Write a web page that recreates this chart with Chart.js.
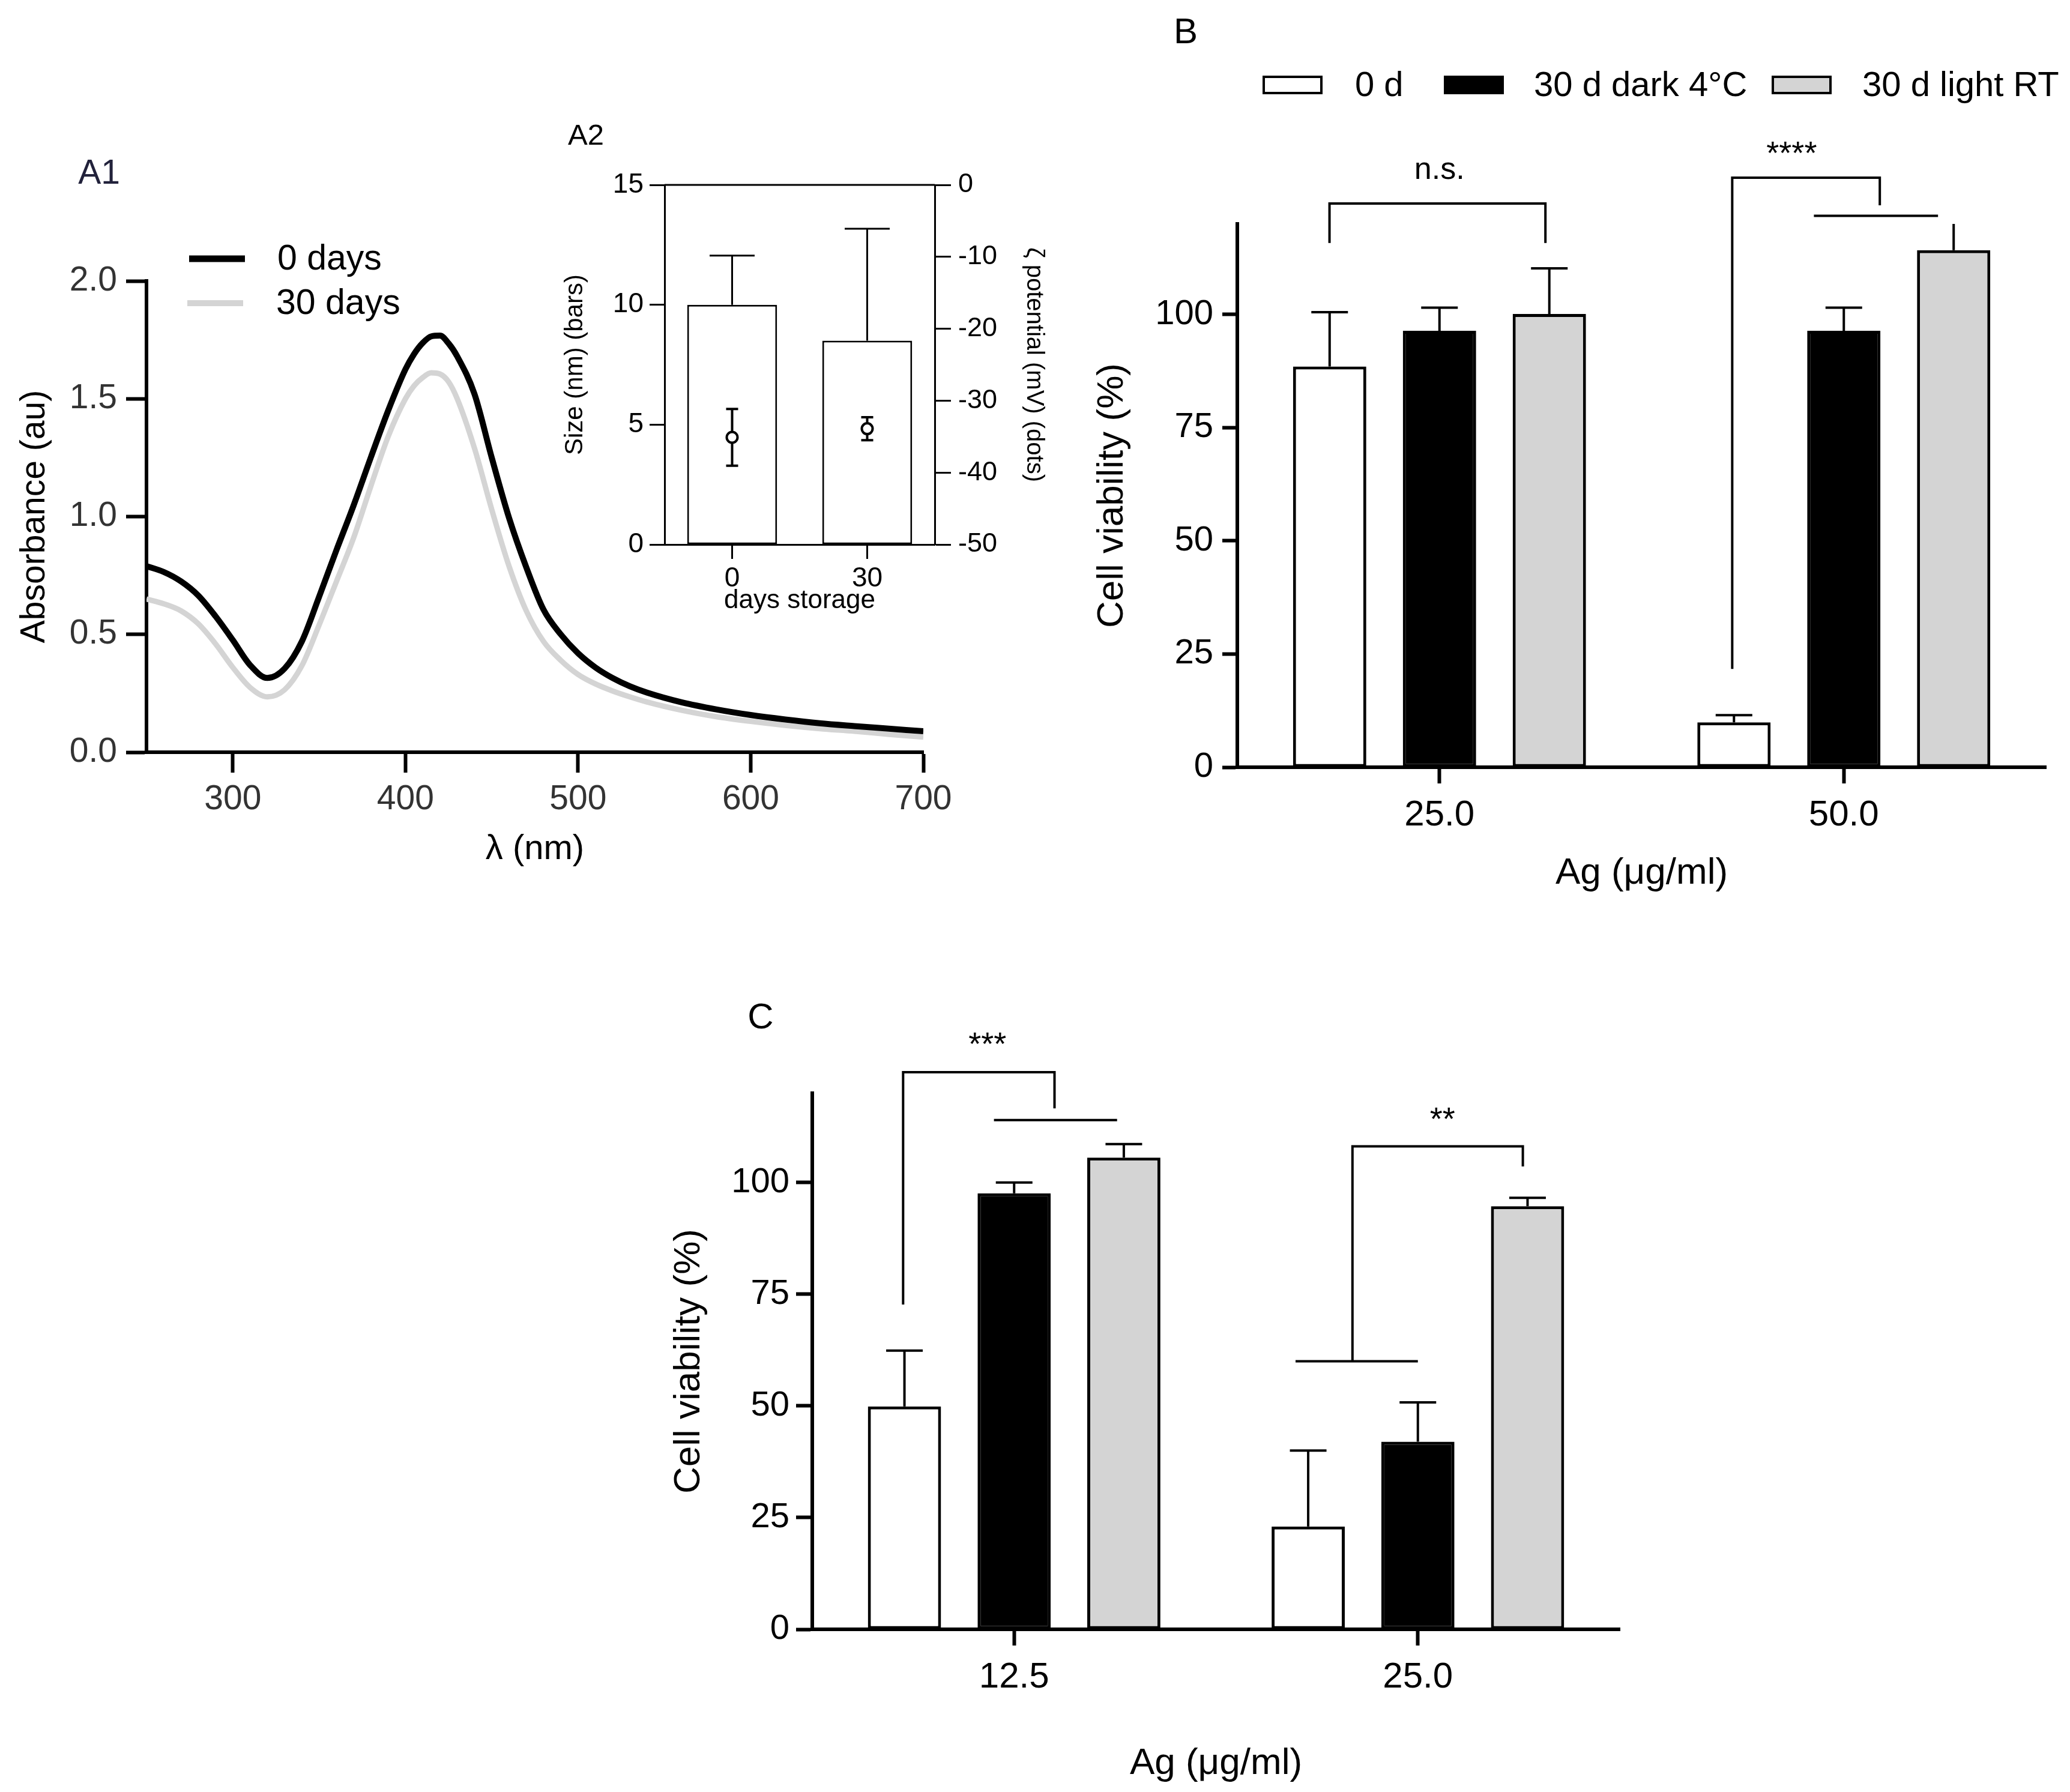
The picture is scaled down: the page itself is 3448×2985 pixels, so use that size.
<!DOCTYPE html>
<html>
<head>
<meta charset="utf-8">
<script src="https://cdn.jsdelivr.net/npm/chart.js@4.4.1/dist/chart.umd.min.js"></script>
<style>
  html, body { margin: 0; padding: 0; background: #fff; }
  #page { position: relative; width: 3448px; height: 2985px; overflow: hidden; font-family: 'Liberation Sans', Arial, sans-serif; }
  canvas { position: absolute; }
  .tag { position: absolute; line-height: 1; transform: translate(-50%, -50%); white-space: nowrap; }
</style>
</head>
<body>
<div id="page">
  <canvas id="chartA1" width="1600" height="1500" style="left:0px;top:0px;width:1600px;height:1500px"></canvas>
  <canvas id="chartA2" width="900" height="900" style="left:900px;top:150px;width:900px;height:900px"></canvas>
  <canvas id="chartB" width="1648" height="1500" style="left:1800px;top:0px;width:1648px;height:1500px"></canvas>
  <canvas id="chartC" width="1700" height="1385" style="left:1050px;top:1600px;width:1700px;height:1385px"></canvas>
  <div class="tag" style="left:165px;top:286px;font-size:57px;color:#22223b">A1</div>
  <div class="tag" style="left:976px;top:224px;font-size:49px;color:#000">A2</div>
  <div class="tag" style="left:1975px;top:52px;font-size:60px;color:#000">B</div>
  <div class="tag" style="left:1267px;top:1693px;font-size:60px;color:#000">C</div>
</div>
<script>
// ---- A1: UV-vis spectra ----
const wavelengths = [250, 260, 270, 280, 290, 300, 310, 320, 330, 340, 350, 360, 370, 380, 390, 400, 405, 410, 415, 420, 425, 430,
  440, 450, 460, 470, 480, 490, 500, 510, 520, 530, 540, 560, 580, 600, 620, 640, 660, 680, 700];
const abs0Days = [0.79, 0.765, 0.725, 0.665, 0.577, 0.476, 0.37, 0.315, 0.355, 0.47, 0.66, 0.857, 1.048, 1.252, 1.45, 1.625, 1.69, 1.737, 1.765, 1.768, 1.735, 1.68,
  1.52, 1.25, 0.995, 0.785, 0.605, 0.50, 0.42, 0.36, 0.315, 0.28, 0.253, 0.212, 0.182, 0.158, 0.139, 0.123, 0.111, 0.10, 0.089];
const abs30Days = [0.65, 0.63, 0.60, 0.545, 0.46, 0.36, 0.275, 0.235, 0.265, 0.367, 0.54, 0.724, 0.91, 1.13, 1.34, 1.50, 1.555, 1.59, 1.61, 1.605, 1.572, 1.50,
  1.29, 1.03, 0.79, 0.60, 0.47, 0.39, 0.33, 0.29, 0.26, 0.235, 0.213, 0.178, 0.151, 0.131, 0.114, 0.10, 0.089, 0.076, 0.064];
const a1XTicks = [300, 400, 500, 600, 700];
const a1Series = ['0 days', '30 days'];

// ---- A2: size (bars) and zeta potential (dots) ----
const a2Days = ['0', '30'];
const a2Size = [10.0, 8.5];
const a2SizeErr = [2.05, 4.67];
const a2Zeta = [-35.1, -33.9];
const a2ZetaErr = [3.95, 1.6];

// ---- B: viability, Ag 25 / 50 ----
const groupLabels = ['0 d', '30 d dark 4°C', '30 d light RT'];
const bDoses = ['25.0', '50.0'];
const bFresh = [88.5, 9.9];
const bFreshErr = [12.0, 1.6];
const bDark = [96.4, 96.4];
const bDarkErr = [5.1, 5.1];
const bLight = [100.1, 114.2];
const bLightErr = [10.1, 7.0];

// ---- C: viability, Ag 12.5 / 25 ----
const cDoses = ['12.5', '25.0'];
const cFresh = [49.9, 23.0];
const cFreshErr = [12.5, 17.0];
const cDark = [97.6, 42.0];
const cDarkErr = [2.4, 8.8];
const cLight = [105.6, 94.7];
const cLightErr = [3.0, 1.9];

const viabilityTicks = [0, 25, 50, 75, 100];

const FONT = "'Liberation Sans', Arial, sans-serif";
Chart.defaults.font.family = FONT;
Chart.defaults.color = '#000';

// error bars, drawn just before each dataset so dots cover their own whiskers
const errorBars = {
  id: 'errorBars',
  beforeDatasetDraw(chart, args) {
    const ds = chart.data.datasets[args.index];
    if (!ds.errors) return;
    const meta = args.meta;
    const yScale = chart.scales[meta.yAxisID];
    const area = chart.chartArea;
    const ctx = chart.ctx;
    ctx.save();
    ctx.beginPath();
    ctx.rect(area.left - 100, area.top, area.width + 200, area.height + 10);
    ctx.clip();
    ctx.strokeStyle = '#000';
    ctx.lineWidth = ds.errWidth;
    ctx.lineCap = 'butt';
    meta.data.forEach((el, j) => {
      const v = ds.data[j];
      const e = ds.errors[j];
      const x = el.x;
      const yTop = yScale.getPixelForValue(v + e);
      const yMid = yScale.getPixelForValue(v);
      const half = ds.capWidth / 2;
      ctx.beginPath();
      if (ds.errorBoth) {
        const yBot = yScale.getPixelForValue(v - e);
        ctx.moveTo(x, yTop); ctx.lineTo(x, yBot);
        ctx.moveTo(x - half, yBot); ctx.lineTo(x + half, yBot);
      } else {
        ctx.moveTo(x, yMid); ctx.lineTo(x, yTop);
      }
      ctx.moveTo(x - half, yTop); ctx.lineTo(x + half, yTop);
      ctx.stroke();
    });
    ctx.restore();
  }
};

// significance brackets (x in category units, y in data units)
const brackets = {
  id: 'brackets',
  afterDraw(chart, args, opts) {
    if (!opts.lines) return;
    const ctx = chart.ctx;
    const xs = chart.scales.x, ys = chart.scales.y;
    ctx.save();
    ctx.strokeStyle = '#000';
    ctx.lineWidth = 4;
    ctx.lineJoin = 'miter';
    opts.lines.forEach(pts => {
      ctx.beginPath();
      pts.forEach((p, k) => {
        const px = xs.getPixelForValue(p[0]);
        const py = ys.getPixelForValue(p[1]);
        if (k === 0) ctx.moveTo(px, py); else ctx.lineTo(px, py);
      });
      ctx.stroke();
    });
    ctx.fillStyle = '#000';
    ctx.textAlign = 'center';
    ctx.textBaseline = 'alphabetic';
    opts.labels.forEach(l => {
      ctx.font = l.size + 'px ' + FONT;
      ctx.fillText(l.text, xs.getPixelForValue(l.x), ys.getPixelForValue(l.y));
    });
    ctx.restore();
  }
};

// A1 legend (line samples inside the plot)
const lineLegend = {
  id: 'lineLegend',
  afterDraw(chart, args, opts) {
    if (!opts.items) return;
    const ctx = chart.ctx;
    ctx.save();
    opts.items.forEach((it, i) => {
      const ds = chart.data.datasets[i];
      ctx.strokeStyle = ds.borderColor;
      ctx.lineWidth = it.w;
      ctx.beginPath();
      ctx.moveTo(it.x0, it.y); ctx.lineTo(it.x1, it.y);
      ctx.stroke();
      ctx.fillStyle = '#000';
      ctx.font = '59px ' + FONT;
      ctx.textAlign = 'left';
      ctx.textBaseline = 'middle';
      ctx.fillText(ds.label, it.tx, it.y + 2);
    });
    ctx.restore();
  }
};

// B legend (boxes above the plot)
const boxLegend = {
  id: 'boxLegend',
  afterDraw(chart, args, opts) {
    if (!opts.items) return;
    const ctx = chart.ctx;
    ctx.save();
    opts.items.forEach((it, i) => {
      const ds = chart.data.datasets[i];
      ctx.fillStyle = ds.backgroundColor;
      ctx.fillRect(it.x, opts.y, opts.w, opts.h);
      ctx.strokeStyle = '#000';
      ctx.lineWidth = 4;
      ctx.strokeRect(it.x, opts.y, opts.w, opts.h);
      ctx.fillStyle = '#000';
      ctx.font = '58px ' + FONT;
      ctx.textAlign = 'left';
      ctx.textBaseline = 'middle';
      ctx.fillText(ds.label, it.tx, opts.y + opts.h / 2 + 2);
    });
    ctx.restore();
  }
};

// A2 frame top line
const topLine = {
  id: 'topLine',
  afterDraw(chart, args, opts) {
    if (!opts.width) return;
    const {ctx, chartArea} = chart;
    ctx.save();
    ctx.strokeStyle = '#000';
    ctx.lineWidth = opts.width;
    ctx.beginPath();
    ctx.moveTo(chartArea.left, chartArea.top);
    ctx.lineTo(chartArea.right, chartArea.top);
    ctx.stroke();
    ctx.restore();
  }
};

Chart.register(errorBars, brackets, lineLegend, boxLegend, topLine);

const base = { responsive: false, animation: false, devicePixelRatio: 1 };

// ---------- A1 ----------
new Chart(document.getElementById('chartA1'), {
  type: 'line',
  data: {
    datasets: [
      { label: a1Series[0], data: wavelengths.map((w, i) => ({ x: w, y: abs0Days[i] })),
        borderColor: '#000', borderWidth: 10, pointRadius: 0, fill: false, cubicInterpolationMode: 'monotone' },
      { label: a1Series[1], data: wavelengths.map((w, i) => ({ x: w, y: abs30Days[i] })),
        borderColor: '#d4d4d4', borderWidth: 9, pointRadius: 0, fill: false, cubicInterpolationMode: 'monotone' }
    ]
  },
  options: {
    ...base,
    layout: { padding: { left: 24, right: 62, top: 468, bottom: 50 } },
    plugins: {
      legend: { display: false }, tooltip: { enabled: false },
      lineLegend: { items: [
        { x0: 315, x1: 408, y: 431, w: 11, tx: 462 },
        { x0: 312, x1: 405, y: 505, w: 10, tx: 460 }
      ] }
    },
    scales: {
      x: {
        type: 'linear', min: 250, max: 700,
        afterBuildTicks: s => { s.ticks = a1XTicks.map(v => ({ value: v })); },
        afterFit: s => { s.height = 197; },
        border: { display: true, width: 6, color: '#000' },
        grid: { drawOnChartArea: false, drawTicks: true, tickLength: 34, tickWidth: 6, tickColor: '#000' },
        ticks: { font: { size: 57 }, color: '#333', padding: 11, maxRotation: 0, autoSkip: false },
        title: { display: true, text: 'λ (nm)', font: { size: 58 }, color: '#000', padding: 0 }
      },
      y: {
        min: 0, max: 2,
        afterFit: s => { s.width = 220; },
        border: { display: true, width: 6, color: '#000' },
        grid: { drawOnChartArea: false, drawTicks: true, tickLength: 34, tickWidth: 6, tickColor: '#000' },
        ticks: { stepSize: 0.5, font: { size: 57 }, color: '#333', padding: 15, callback: v => v.toFixed(1) },
        title: { display: true, text: 'Absorbance (au)', font: { size: 57 }, color: '#000', padding: 0 }
      }
    }
  }
});

// ---------- A2 ----------
new Chart(document.getElementById('chartA2'), {
  type: 'bar',
  data: {
    labels: a2Days,
    datasets: [
      { type: 'bar', label: 'Size (nm)', data: a2Size, errors: a2SizeErr, yAxisID: 'y', order: 2,
        backgroundColor: '#fff', borderColor: '#000', borderWidth: 3, borderSkipped: false,
        categoryPercentage: 1, barPercentage: 0.665, errWidth: 3, capWidth: 75 },
      { type: 'line', label: 'ζ potential (mV)', data: a2Zeta, errors: a2ZetaErr, errorBoth: true, yAxisID: 'y2', order: 1,
        showLine: false, pointRadius: 9, pointBackgroundColor: '#fff', pointBorderColor: '#000', pointBorderWidth: 4,
        errWidth: 4, capWidth: 20 }
    ]
  },
  options: {
    ...base,
    layout: { padding: { left: 33, right: 54, top: 158, bottom: 23 } },
    plugins: { legend: { display: false }, tooltip: { enabled: false }, topLine: { width: 3 } },
    scales: {
      x: {
        type: 'category', offset: true,
        afterFit: s => { s.height = 120; },
        border: { display: true, width: 3, color: '#000' },
        grid: { offset: false, drawOnChartArea: false, drawTicks: true, tickLength: 24, tickWidth: 3, tickColor: '#000' },
        ticks: { font: { size: 46 }, color: '#000', padding: 6, maxRotation: 0 },
        title: { display: true, text: 'days storage', font: { size: 44 }, color: '#000', padding: 0 }
      },
      y: {
        position: 'left', min: 0, max: 15,
        afterFit: s => { s.width = 174; },
        border: { display: true, width: 3, color: '#000' },
        grid: { drawOnChartArea: false, drawTicks: true, tickLength: 25, tickWidth: 3, tickColor: '#000' },
        ticks: { stepSize: 5, font: { size: 46 }, color: '#000', padding: 10 },
        title: { display: true, text: 'Size (nm) (bars)', font: { size: 42 }, color: '#000', padding: 0 }
      },
      y2: {
        position: 'right', min: -50, max: 0,
        afterFit: s => { s.width = 189; },
        border: { display: true, width: 3, color: '#000' },
        grid: { drawOnChartArea: false, drawTicks: true, tickLength: 27, tickWidth: 3, tickColor: '#000' },
        ticks: { stepSize: 10, font: { size: 45 }, color: '#000', padding: 12 },
        title: { display: true, text: 'ζ potential (mV) (dots)', font: { size: 40 }, color: '#000', padding: 0 }
      }
    }
  }
});

// ---------- shared builders for B and C ----------
function viabilityDatasets(fresh, freshErr, dark, darkErr, light, lightErr) {
  const common = { borderColor: '#000', borderWidth: 5, borderSkipped: false,
    categoryPercentage: 0.815, barPercentage: 0.667, errWidth: 4, capWidth: 61 };
  return [
    { label: groupLabels[0], data: fresh, errors: freshErr, backgroundColor: '#fff', ...common },
    { label: groupLabels[1], data: dark, errors: darkErr, backgroundColor: '#000', ...common },
    { label: groupLabels[2], data: light, errors: lightErr, backgroundColor: '#d4d4d4', ...common }
  ];
}

function viabilityScales(yWidth, xHeight, yPad, yTick) {
  return {
    x: {
      type: 'category', offset: true,
      afterFit: s => { s.height = xHeight; },
      border: { display: true, width: 6, color: '#000' },
      grid: { offset: false, drawOnChartArea: false, drawTicks: true, tickLength: 27, tickWidth: 6, tickColor: '#000' },
      ticks: { font: { size: 60 }, color: '#000', padding: 17, maxRotation: 0 },
      title: { display: true, text: 'Ag (μg/ml)', font: { size: 62 }, color: '#000', padding: 0 }
    },
    y: {
      min: 0, max: 120,
      afterBuildTicks: s => { s.ticks = viabilityTicks.map(v => ({ value: v })); },
      afterFit: s => { s.width = yWidth; },
      border: { display: true, width: 6, color: '#000' },
      grid: { drawOnChartArea: false, drawTicks: true, tickLength: yTick, tickWidth: 6, tickColor: '#000' },
      ticks: { font: { size: 58 }, color: '#000', padding: yPad },
      title: { display: true, text: 'Cell viability (%)', font: { size: 62 }, color: '#000', padding: 0 }
    }
  };
}

// ---------- B ----------
new Chart(document.getElementById('chartB'), {
  type: 'bar',
  data: { labels: bDoses, datasets: viabilityDatasets(bFresh, bFreshErr, bDark, bDarkErr, bLight, bLightErr) },
  options: {
    ...base,
    layout: { padding: { left: 16, right: 40, top: 373, bottom: 8 } },
    plugins: {
      legend: { display: false }, tooltip: { enabled: false },
      boxLegend: { y: 128, w: 96, h: 27, items: [
        { x: 305, tx: 457 }, { x: 607, tx: 755 }, { x: 1153, tx: 1302 }
      ] },
      brackets: {
        lines: [
          [[-0.272, 115.8], [-0.272, 124.5], [0.262, 124.5], [0.262, 115.8]],
          [[0.724, 21.7], [0.724, 130.2], [1.089, 130.2], [1.089, 124.1]],
          [[0.926, 121.8], [1.233, 121.8]]
        ],
        labels: [
          { x: 0.0, y: 129.9, text: 'n.s.', size: 52 },
          { x: 0.871, y: 133.2, text: '****', size: 54 }
        ]
      }
    },
    scales: viabilityScales(245, 214, 15, 25)
  }
});

// ---------- C ----------
new Chart(document.getElementById('chartC'), {
  type: 'bar',
  data: { labels: cDoses, datasets: viabilityDatasets(cFresh, cFreshErr, cDark, cDarkErr, cLight, cLightErr) },
  options: {
    ...base,
    layout: { padding: { left: 61, right: 52, top: 221, bottom: 10 } },
    plugins: {
      legend: { display: false }, tooltip: { enabled: false },
      brackets: {
        lines: [
          [[-0.275, 72.7], [-0.275, 124.7], [0.10, 124.7], [0.10, 116.6]],
          [[-0.05, 114.0], [0.255, 114.0]],
          [[0.838, 60.2], [0.838, 108.1], [1.26, 108.1], [1.26, 103.6]],
          [[0.697, 60.0], [1.0, 60.0]]
        ],
        labels: [
          { x: -0.066, y: 128.6, text: '***', size: 54 },
          { x: 1.061, y: 111.8, text: '**', size: 54 }
        ]
      }
    },
    scales: viabilityScales(242, 261, 11, 27)
  }
});
</script>
</body>
</html>
